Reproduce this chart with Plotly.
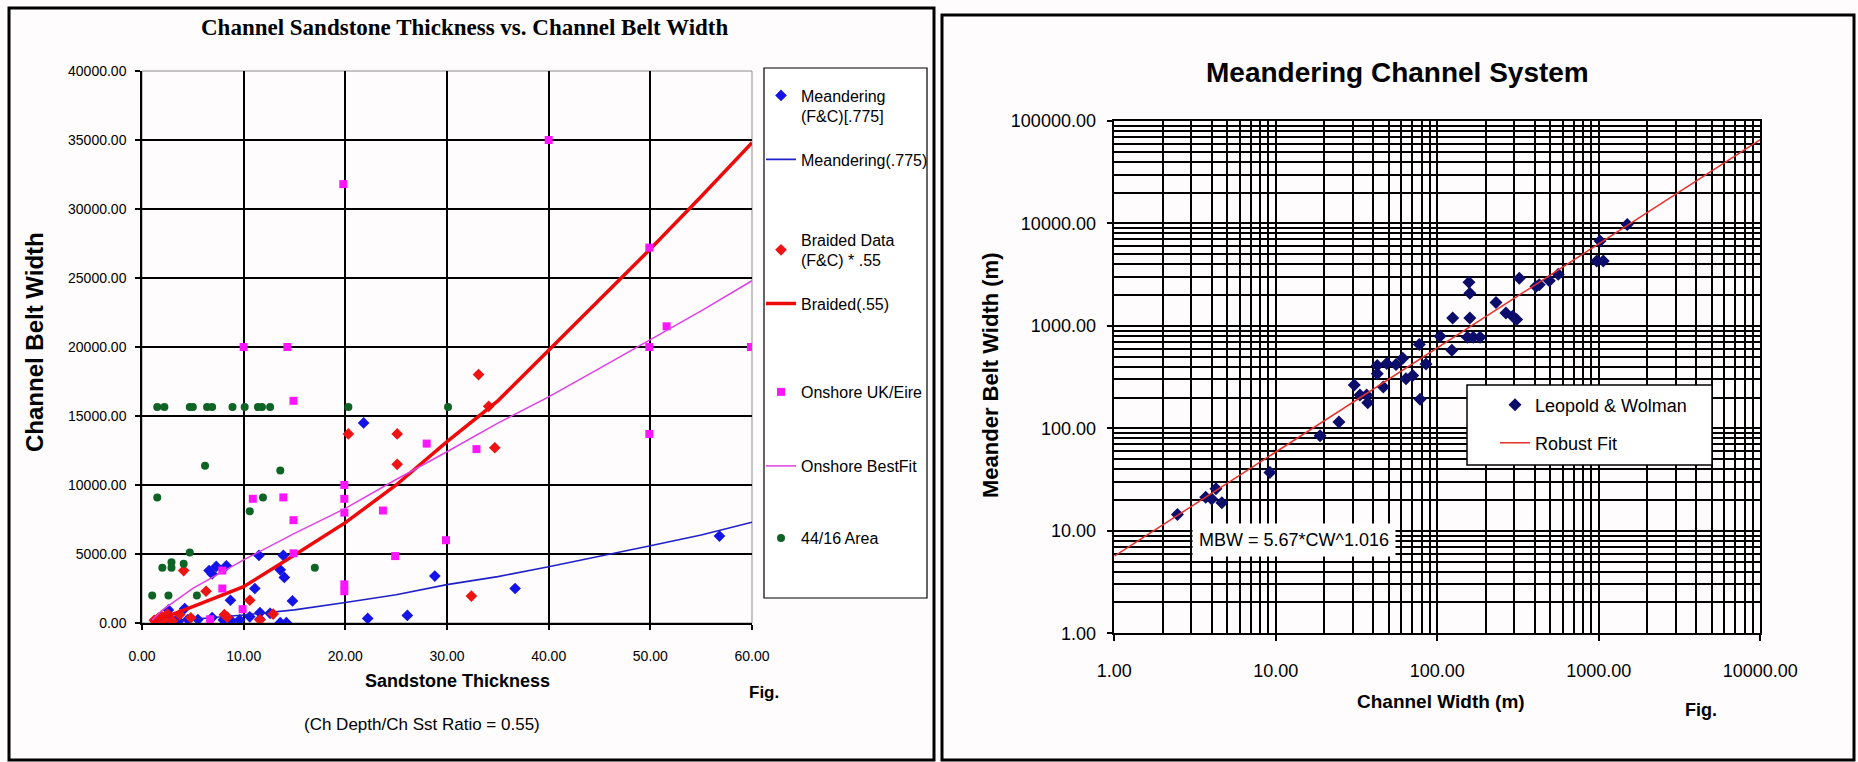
import plotly.graph_objects as go

W, H = 1858, 762

SANS = "Arial, 'Liberation Sans', sans-serif"
SERIF = "'Times New Roman', 'Liberation Serif', serif"

# ---------------- Left panel: sandstone thickness vs channel belt width ----------------
FIT_THICKNESS = [1, 2, 5, 10, 15, 20, 25, 30, 35, 40, 45, 50, 55, 60]
MEANDERING_FIT = [30, 80, 270, 580, 950, 1480, 2050, 2780, 3360, 4080, 4820, 5600, 6380, 7300]
BRAIDED_FIT = [100, 350, 1180, 2630, 4930, 7270, 10000, 13140, 16100, 19780, 23400, 27100, 30900, 34800]
ONSHORE_FIT = [220, 940, 2510, 4570, 6500, 8300, 10400, 12410, 14490, 16380, 18450, 20530, 22620, 24800]

MEANDERING_X = [56.8, 21.8, 28.8, 36.7, 26.1, 22.2, 11.5, 13.9, 13.6, 14.0, 14.8, 11.1, 8.7,
                6.6, 6.9, 7.3, 8.3, 10.6, 11.6, 12.6, 13.6, 14.2, 8.8, 9.6, 8.0, 5.5, 4.2,
                2.6, 2.75, 3.4, 2.3, 2.5, 3.0, 3.6, 2.2, 4.5, 6.9, 11.6]
MEANDERING_Y = [6300, 14500, 3400, 2500, 550, 330, 4900, 4900, 3850, 3300, 1600, 2500, 1650,
                3800, 3550, 4100, 4150, 450, 750, 700, 20, 20, 150, 220, 220, 250, 1050,
                950, 350, 220, 300, 80, 40, 150, 30, 250, 400, 270]

BRAIDED_X = [33.1, 34.1, 20.3, 25.1, 34.7, 25.1, 32.4, 4.1, 6.3, 10.6, 1.2, 1.6, 1.9, 2.5,
             3.7, 4.8, 8.1, 8.4, 11.6, 12.9, 1.4, 2.2, 3.0]
BRAIDED_Y = [18000, 15700, 13700, 13700, 12700, 11500, 1950, 3800, 2300, 1650, 200, 350, 500, 650,
             600, 380, 600, 420, 230, 650, 80, 250, 150]

ONSHORE_X = [40.0, 19.8, 49.9, 51.6, 49.9, 59.9, 10.0, 14.3, 14.9, 49.9, 28.0, 32.9, 10.9, 13.9,
             19.9, 19.9, 19.9, 23.7, 14.9, 29.9, 14.9, 24.9, 7.9, 7.9, 19.9, 19.9, 9.9, 6.7]
ONSHORE_Y = [35000, 31800, 27200, 21500, 20000, 20000, 20000, 20000, 16100, 13700, 13000, 12600, 9000, 9100,
             10000, 9000, 8000, 8150, 7450, 6000, 5050, 4850, 3800, 2500, 2800, 2300, 1000, 270]

AREA_X = [1.5, 2.2, 4.7, 5.0, 6.4, 6.9, 8.9, 10.1, 11.4, 11.8, 12.6, 20.3, 30.1,
          6.2, 13.6, 1.5, 11.9, 10.6, 4.7, 2.0, 2.9, 2.9, 4.1, 17.0, 1.0, 2.6, 5.4]
AREA_Y = [15650, 15650, 15650, 15650, 15650, 15650, 15650, 15650, 15650, 15650, 15650, 15650, 15650,
          11400, 11050, 9100, 9100, 8100, 5100, 4000, 4400, 4000, 4300, 4000, 2000, 2000, 2000]

LEFT_X_TICKS = [0, 10, 20, 30, 40, 50, 60]
LEFT_Y_TICKS = [0, 5000, 10000, 15000, 20000, 25000, 30000, 35000, 40000]

# ---------------- Right panel: meandering channel system ----------------
LW_CHANNEL_WIDTH = [2.46, 3.68, 4.01, 4.26, 4.63, 9.2, 18.8, 24.6, 30.6, 33.2, 36.5, 37.1, 42.5,
                    42.5, 46.3, 48.6, 55.5, 61.1, 64.0, 70.4, 77.4, 78.2, 85.1, 104, 123, 124.5,
                    153.5, 167, 184, 159, 157, 159, 231, 266, 293, 310, 322, 408, 428, 494, 561,
                    1017, 971, 1066, 1500]
LW_BELT_WIDTH = [14.4, 21.3, 20.5, 25.7, 18.8, 37.2, 84.6, 115.7, 265, 212, 212, 178, 411,
                 341, 253, 430, 421, 484, 305, 329, 658, 192, 426, 793, 580, 1194,
                 775, 775, 775, 1194, 2672, 2089, 1695, 1335, 1240, 1152, 2923, 2427, 2518, 2754, 3193,
                 6745, 4312, 4312, 9780]

# Robust fit MBW = 5.67*CW^1.016, end points across the axis range
ROBUST_CW = [1.0, 10000.0]
ROBUST_MBW = [5.67, 65680.0]

LOG_DECADES_X = [1, 10, 100, 1000, 10000]
LOG_DECADES_Y = [1, 10, 100, 1000, 10000, 100000]


def fx(px):
    return px / W


def fy(py):
    return 1 - py / H


def minor_vals(decades):
    return [k * d for d in decades[:-1] for k in range(2, 10)]


fig = go.Figure()

# left panel traces
fig.add_trace(go.Scatter(x=MEANDERING_X, y=MEANDERING_Y, mode="markers",
                         name="Meandering<br>(F&C)[.775]", legend="legend",
                         marker=dict(symbol="diamond", size=9, color="#1414e8"),
                         xaxis="x", yaxis="y"))
fig.add_trace(go.Scatter(x=FIT_THICKNESS, y=MEANDERING_FIT, mode="lines",
                         name="Meandering(.775)", legend="legend2",
                         line=dict(color="#2020c8", width=1.6), xaxis="x", yaxis="y"))
fig.add_trace(go.Scatter(x=BRAIDED_X, y=BRAIDED_Y, mode="markers",
                         name="Braided Data<br>(F&C) * .55", legend="legend3",
                         marker=dict(symbol="diamond", size=9, color="#ee1414"),
                         xaxis="x", yaxis="y"))
fig.add_trace(go.Scatter(x=FIT_THICKNESS, y=BRAIDED_FIT, mode="lines",
                         name="Braided(.55)", legend="legend4",
                         line=dict(color="#ee0a0a", width=3.5), xaxis="x", yaxis="y"))
fig.add_trace(go.Scatter(x=ONSHORE_X, y=ONSHORE_Y, mode="markers",
                         name="Onshore UK/Eire", legend="legend5",
                         marker=dict(symbol="square", size=8, color="#ff14ff"),
                         xaxis="x", yaxis="y"))
fig.add_trace(go.Scatter(x=FIT_THICKNESS, y=ONSHORE_FIT, mode="lines",
                         name="Onshore BestFit", legend="legend6",
                         line=dict(color="#e040e6", width=1.5), xaxis="x", yaxis="y"))
fig.add_trace(go.Scatter(x=AREA_X, y=AREA_Y, mode="markers",
                         name="44/16 Area", legend="legend7",
                         marker=dict(symbol="circle", size=8, color="#0e6424"),
                         xaxis="x", yaxis="y"))

# right panel traces
fig.add_trace(go.Scatter(x=LW_CHANNEL_WIDTH, y=LW_BELT_WIDTH, mode="markers",
                         name="Leopold & Wolman", legend="legend8",
                         marker=dict(symbol="diamond", size=10, color="#0c0c6a"),
                         xaxis="x2", yaxis="y2"))
fig.add_trace(go.Scatter(x=ROBUST_CW, y=ROBUST_MBW, mode="lines",
                         name="Robust Fit", legend="legend9",
                         line=dict(color="#e8302c", width=1.5),
                         xaxis="x2", yaxis="y2"))

bg = "#fefcfc"
tick_font_left = dict(family=SANS, size=14, color="black")
tick_font_right = dict(family=SANS, size=18, color="black")

layout = dict(
    width=W, height=H, autosize=False,
    margin=dict(l=0, r=0, t=0, b=0, autoexpand=False),
    paper_bgcolor=bg, plot_bgcolor=bg,
    showlegend=True,
    xaxis=dict(domain=[fx(142), fx(752)], range=[0, 60], tickvals=LEFT_X_TICKS,
               tickformat=".2f", showgrid=True, gridcolor="black", gridwidth=1.8,
               zeroline=False, showline=True, linecolor="black", linewidth=1.5,
               ticks="outside", ticklen=5, tickwidth=1.5, tickcolor="black",
               tickfont=tick_font_left, ticklabelstandoff=14, automargin=False,
               anchor="y", fixedrange=True),
    yaxis=dict(domain=[fy(623), fy(71)], range=[0, 40000], tickvals=LEFT_Y_TICKS,
               tickformat=".2f", showgrid=True, gridcolor="black", gridwidth=1.8,
               zeroline=False, showline=True, linecolor="black", linewidth=1.5,
               ticks="outside", ticklen=5, tickwidth=1.5, tickcolor="black",
               tickfont=tick_font_left, ticklabelstandoff=6, automargin=False,
               anchor="x", fixedrange=True),
    xaxis2=dict(domain=[fx(1114.3), fx(1760.3)], type="log", range=[0, 4],
                tickvals=LOG_DECADES_X, tickformat=".2f",
                showgrid=True, gridcolor="black", gridwidth=1.7,
                minor=dict(tickvals=minor_vals(LOG_DECADES_X), showgrid=True,
                           gridcolor="black", gridwidth=1.5, ticks=""),
                zeroline=False, showline=True, mirror=True, linecolor="black", linewidth=1.5,
                ticks="outside", ticklen=6, tickwidth=1.5, tickcolor="black",
                tickfont=tick_font_right, ticklabelstandoff=14, automargin=False,
                anchor="y2", fixedrange=True),
    yaxis2=dict(domain=[fy(633.3), fy(121)], type="log", range=[0, 5],
                tickvals=LOG_DECADES_Y, tickformat=".2f",
                showgrid=True, gridcolor="black", gridwidth=1.7,
                minor=dict(tickvals=minor_vals(LOG_DECADES_Y), showgrid=True,
                           gridcolor="black", gridwidth=1.5, ticks=""),
                zeroline=False, showline=True, mirror=True, linecolor="black", linewidth=1.5,
                ticks="outside", ticklen=6, tickwidth=1.5, tickcolor="black",
                tickfont=tick_font_right, ticklabelstandoff=7, automargin=False,
                anchor="x2", fixedrange=True),
)


def legend_at(px_left, py_center, size, valign="middle"):
    return dict(x=fx(px_left), y=fy(py_center), xanchor="left", yanchor="middle",
                xref="paper", yref="paper", bgcolor="rgba(0,0,0,0)", borderwidth=0,
                font=dict(family=SANS, size=size, color="black"), valign=valign,
                itemclick=False, itemdoubleclick=False)


layout["legend"] = legend_at(761, 106, 16, "top")
layout["legend2"] = legend_at(761, 159.5, 16)
layout["legend3"] = legend_at(761, 250, 16)
layout["legend4"] = legend_at(761, 303.5, 16)
layout["legend5"] = legend_at(761, 392, 16)
layout["legend6"] = legend_at(761, 466, 16)
layout["legend7"] = legend_at(761, 538, 16)
layout["legend8"] = legend_at(1495, 405, 18)
layout["legend9"] = legend_at(1495, 443, 18)

shapes = [
    # panel frames
    dict(type="rect", xref="paper", yref="paper", x0=fx(9), x1=fx(934), y0=fy(760), y1=fy(8),
         line=dict(color="black", width=3)),
    dict(type="rect", xref="paper", yref="paper", x0=fx(942), x1=fx(1854), y0=fy(760), y1=fy(15),
         line=dict(color="black", width=3)),
    # left plot-area outline
    dict(type="rect", xref="x domain", yref="y domain", x0=0, x1=1, y0=0, y1=1,
         line=dict(color="#8c8c8c", width=1), layer="below"),
    # legend boxes
    dict(type="rect", xref="paper", yref="paper", x0=fx(764), x1=fx(927), y0=fy(598), y1=fy(68),
         fillcolor="white", line=dict(color="black", width=1.2), layer="above"),
    dict(type="rect", xref="paper", yref="paper", x0=fx(1467), x1=fx(1712), y0=fy(465), y1=fy(385),
         fillcolor="white", line=dict(color="black", width=1.5), layer="above"),
]
layout["shapes"] = shapes


def note(text, px, py, size, family=SANS, bold=False, angle=0, xanchor="center", **extra):
    t = "<b>%s</b>" % text if bold else text
    d = dict(text=t, x=fx(px), y=fy(py), xref="paper", yref="paper", showarrow=False,
             xanchor=xanchor, yanchor="middle", textangle=angle,
             font=dict(family=family, size=size, color="black"))
    d.update(extra)
    return d


layout["annotations"] = [
    note("Channel Sandstone Thickness vs. Channel Belt Width", 464, 28, 23, SERIF, bold=True),
    note("Channel Belt Width", 34, 342, 24, bold=True, angle=-90),
    note("Sandstone Thickness", 457, 681, 18, bold=True),
    note("(Ch Depth/Ch Sst Ratio = 0.55)", 422, 724, 17),
    note("Fig.", 747, 692, 17, bold=True, xanchor="left"),
    note("Meandering Channel System", 1397, 73, 28, bold=True),
    note("Meander Belt Width (m)", 990, 375, 22, bold=True, angle=-90),
    note("Channel Width (m)", 1441, 701, 19, bold=True),
    note("Fig.", 1683, 710, 18, bold=True, xanchor="left"),
    note("MBW = 5.67*CW^1.016", 1192, 540, 18, xanchor="left",
         bgcolor="white", borderpad=6),
]

fig.update_layout(**layout)
fig.write_html("out.html")
